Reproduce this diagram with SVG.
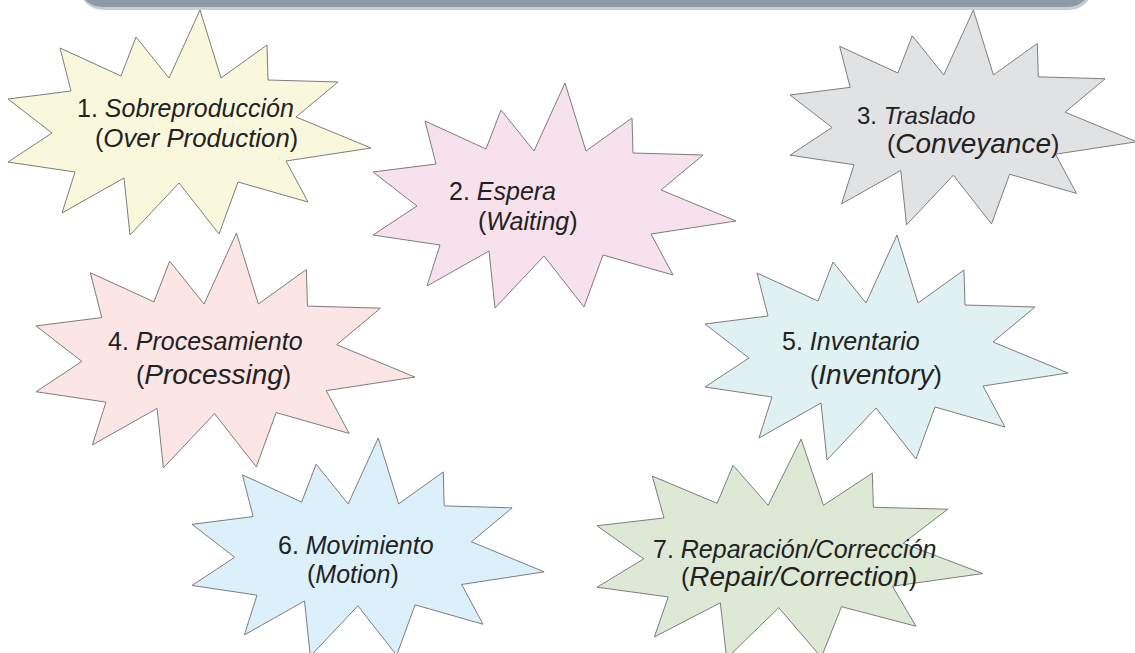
<svg xmlns="http://www.w3.org/2000/svg" width="1135" height="653" viewBox="0 0 1135 653">
  <style>
    .burst { stroke: #7d7d7d; stroke-width: 1; stroke-linejoin: miter; }
    .label { font-family: "Liberation Sans", Arial, sans-serif; font-size: 25px; fill: #222222; }
    .it { font-style: italic; }
    .big { font-size: 28px; }
  </style>
  <defs>
    <!-- 12-point explosion outline, 363 x 225 unit box -->
    <polygon id="burstShape" points="192,0 213,68 259,35 260,70 330,72 288,107 363,138 278,151 300,192 230,172 211,224 171,173 122,225 116,168 54,203 67,162 0,152 44,123 0,89 63,81 52,38 113,66 128,27 161,68" vector-effect="non-scaling-stroke"/>
  </defs>

  <!-- header band -->
  <g id="header">
    <rect x="79" y="-38" width="1014" height="48" rx="24" fill="#c9ced3"/>
    <rect x="78" y="-40" width="1014" height="47" rx="24" fill="#8e9ba6"/>
  </g>

  <g id="waste1">
    <use href="#burstShape" class="burst" fill="#faf8dc" transform="translate(8,10)"/>
    <text class="label" x="77" y="117">1. <tspan class="it">Sobreproducción</tspan></text>
    <text class="label" x="95" y="147">(<tspan class="it" style="font-size:25.8px">Over Production</tspan>)</text>
  </g>

  <g id="waste2">
    <use href="#burstShape" class="burst" fill="#f6e1ec" transform="translate(373,83)"/>
    <text class="label" x="449" y="200">2. <tspan class="it">Espera</tspan></text>
    <text class="label" x="478" y="230">(<tspan class="it">Waiting</tspan>)</text>
  </g>

  <g id="waste3">
    <use href="#burstShape" class="burst" fill="#e1e2e4" transform="translate(790,10) scale(0.955)"/>
    <text class="label" x="857" y="124" style="font-size:24px">3. <tspan class="it">Traslado</tspan></text>
    <text class="label" x="887" y="153">(<tspan class="it big">Conveyance</tspan>)</text>
  </g>

  <g id="waste4">
    <use href="#burstShape" class="burst" fill="#fbe5e5" transform="translate(36,233) scale(1.044)"/>
    <text class="label" x="108" y="350">4. <tspan class="it">Procesamiento</tspan></text>
    <text class="label" x="136" y="384">(<tspan class="it big">Processing</tspan>)</text>
  </g>

  <g id="waste5">
    <use href="#burstShape" class="burst" fill="#dff1f3" transform="translate(705,235)"/>
    <text class="label" x="782" y="350">5. <tspan class="it">Inventario</tspan></text>
    <text class="label" x="810" y="384">(<tspan class="it big">Inventory</tspan>)</text>
  </g>

  <g id="waste6">
    <use href="#burstShape" class="burst" fill="#dcf0fb" transform="translate(192,438) scale(0.97)"/>
    <text class="label" x="278" y="554">6. <tspan class="it">Movimiento</tspan></text>
    <text class="label" x="307" y="583">(<tspan class="it">Motion</tspan>)</text>
  </g>

  <g id="waste7">
    <use href="#burstShape" class="burst" fill="#dde9d5" transform="translate(597,439) scale(1.063,0.975)"/>
    <text class="label" x="653" y="558">7. <tspan class="it">Reparación/Corrección</tspan></text>
    <text class="label" x="681" y="586">(<tspan class="it big">Repair/Correction</tspan>)</text>
  </g>

  <g id="connectors"/>
</svg>
